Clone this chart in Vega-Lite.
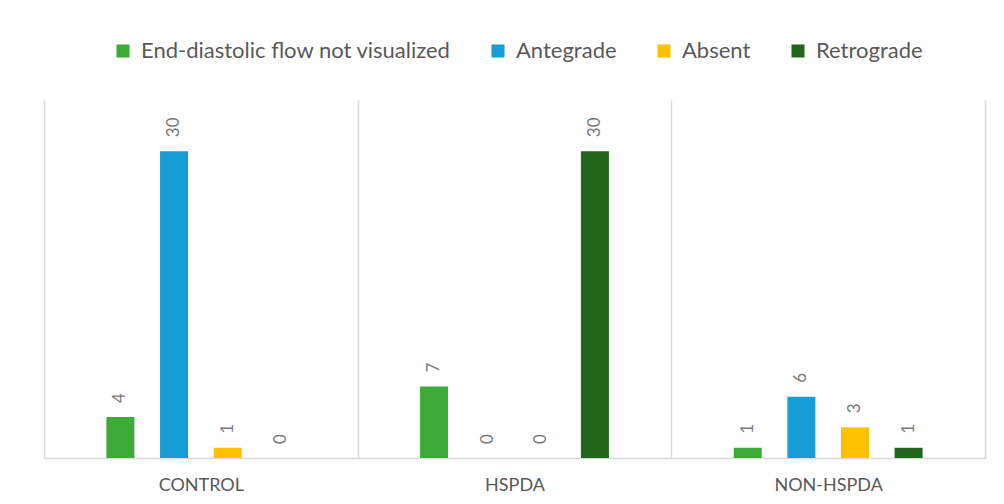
{
  "$schema": "https://vega.github.io/schema/vega-lite/v6.json",
  "width": 941,
  "height": 358,
  "autosize": {"type": "none"},
  "padding": {"left": 44, "top": 100, "right": 19, "bottom": 46},
  "config": {"view": {"stroke": null}, "font": "Lato"},
  "data": {
    "values": [
      {"group": "CONTROL", "flow": "End-diastolic flow not visualized", "count": 4},
      {"group": "CONTROL", "flow": "Antegrade", "count": 30},
      {"group": "CONTROL", "flow": "Absent", "count": 1},
      {"group": "CONTROL", "flow": "Retrograde", "count": 0},
      {"group": "HSPDA", "flow": "End-diastolic flow not visualized", "count": 7},
      {"group": "HSPDA", "flow": "Antegrade", "count": 0},
      {"group": "HSPDA", "flow": "Absent", "count": 0},
      {"group": "HSPDA", "flow": "Retrograde", "count": 30},
      {"group": "NON-HSPDA", "flow": "End-diastolic flow not visualized", "count": 1},
      {"group": "NON-HSPDA", "flow": "Antegrade", "count": 6},
      {"group": "NON-HSPDA", "flow": "Absent", "count": 3},
      {"group": "NON-HSPDA", "flow": "Retrograde", "count": 1}
    ]
  },
  "encoding": {
    "x": {
      "field": "group",
      "type": "nominal",
      "sort": ["CONTROL", "HSPDA", "NON-HSPDA"],
      "scale": {"paddingInner": 0, "paddingOuter": 0},
      "axis": {
        "title": null,
        "ticks": false,
        "grid": true,
        "tickBand": "extent",
        "gridColor": "#d9d9d9",
        "gridWidth": 1.5,
        "domainColor": "#d9d9d9",
        "domainWidth": 1.5,
        "labelAngle": 0,
        "labelFontSize": 18,
        "labelColor": "#595959",
        "labelPadding": 18
      }
    },
    "xOffset": {
      "field": "flow",
      "type": "nominal",
      "sort": ["End-diastolic flow not visualized", "Antegrade", "Absent", "Retrograde"],
      "scale": {"paddingInner": 0.15, "paddingOuter": 1}
    },
    "y": {
      "field": "count",
      "type": "quantitative",
      "scale": {"domain": [0, 35]},
      "axis": null
    }
  },
  "layer": [
    {
      "mark": {"type": "bar", "width": 28},
      "encoding": {
        "color": {
          "field": "flow",
          "type": "nominal",
          "scale": {
            "domain": ["End-diastolic flow not visualized", "Antegrade", "Absent", "Retrograde"],
            "range": ["#3dab37", "#179cd6", "#ffc000", "#22661c"]
          },
          "legend": {
            "title": null,
            "orient": "none",
            "direction": "horizontal",
            "legendX": 68,
            "legendY": -60,
            "symbolType": "square",
            "symbolSize": 170,
            "symbolStrokeWidth": 0,
            "labelFontSize": 22,
            "labelLimit": 0,
            "labelColor": "#595959",
            "labelOffset": 7,
            "columnPadding": 36
          }
        }
      }
    },
    {
      "mark": {
        "type": "text",
        "angle": 270,
        "align": "left",
        "baseline": "middle",
        "dx": 14,
        "fontSize": 17,
        "color": "#7a7a7a"
      },
      "encoding": {"text": {"field": "count", "type": "quantitative"}}
    }
  ]
}
